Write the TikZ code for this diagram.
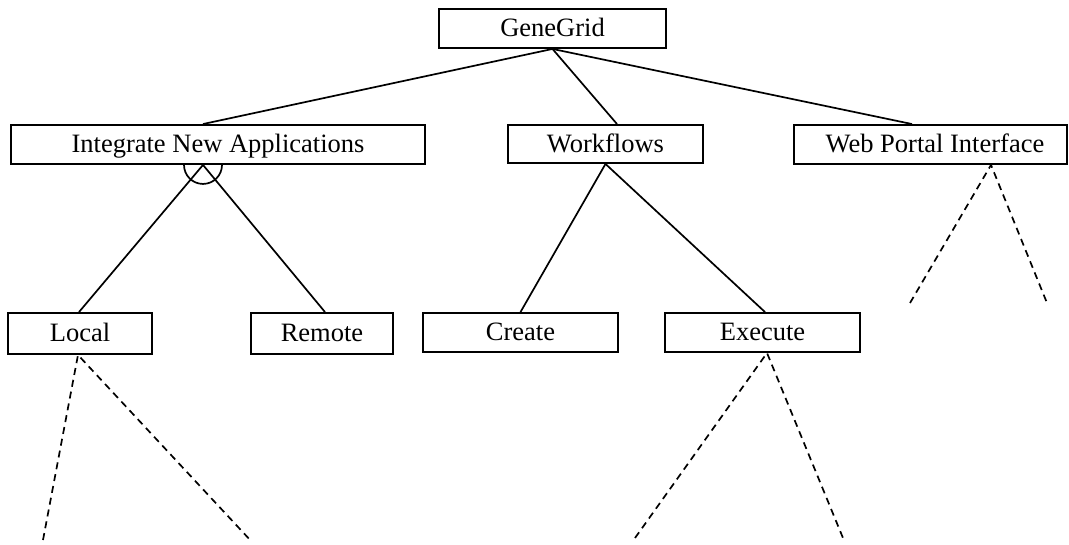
\documentclass[tikz,border=0pt]{standalone}
\usepackage{fontspec}
\setmainfont{Liberation Serif}
\usetikzlibrary{calc}
\begin{document}
\begin{tikzpicture}[x=1pt,y=-1pt,
  box/.style={draw,line width=1.9pt,inner sep=0pt,text height=18pt,text depth=1pt,font=\fontsize{26.5}{30}\selectfont},
  link/.style={line width=1.7pt},
  dlink/.style={line width=1.7pt,dash pattern=on 7pt off 5pt}]
\useasboundingbox (0,0) rectangle (1069,545);
\node[box,minimum width=227pt,minimum height=39pt] (gg) at (552.5,28.5) {GeneGrid};
\node[box,minimum width=414pt,minimum height=39pt] (ina) at (218,144.5) {Integrate New Applications};
\node[box,minimum width=195pt,minimum height=38pt] (wf) at (605.5,144) {Workflows};
\node[box,minimum width=273pt,minimum height=39pt] (wpi) at (930.5,144.5) {\hspace*{9pt}Web Portal Interface};
\node[box,minimum width=144pt,minimum height=41pt] (local) at (80,333.5) {Local};
\node[box,minimum width=142pt,minimum height=41pt] (remote) at (322,333.5) {Remote};
\node[box,minimum width=195pt,minimum height=39pt] (create) at (520.5,332.5) {Create};
\node[box,minimum width=195pt,minimum height=39pt] (execute) at (762.5,332.5) {Execute};
% top level
\draw[link] (gg.south) -- ([xshift=-15pt]ina.north);
\draw[link] (gg.south) -- ([xshift=11.5pt]wf.north);
\draw[link] (gg.south) -- ([xshift=-18.5pt]wpi.north);
% integrate (AND)
\draw[link] ([xshift=-15pt]ina.south) -- ([xshift=-1pt]local.north);
\draw[link] ([xshift=-15pt]ina.south) -- ([xshift=3pt]remote.north);
\draw[link] ([xshift=-34pt]ina.south) arc[start angle=180,end angle=360,radius=19pt];
% workflows
\draw[link] (wf.south) -- (create.north);
\draw[link] (wf.south) -- ([xshift=2.5pt]execute.north);
% dashed
\coordinate (w1) at (910,303);
\coordinate (w2) at (1047,303);
\draw[dlink] (w1) -- ([xshift=60.5pt]wpi.south) -- (w2);
\coordinate (l1) at (43,540);
\coordinate (l2) at (252,542);
\draw[dlink] (l1) -- ([xshift=-2pt]local.south) -- (l2);
\coordinate (e1) at (635,538);
\coordinate (e2) at (843,538);
\draw[dlink] (e1) -- ([xshift=4.5pt]execute.south) -- (e2);
\end{tikzpicture}
\end{document}
